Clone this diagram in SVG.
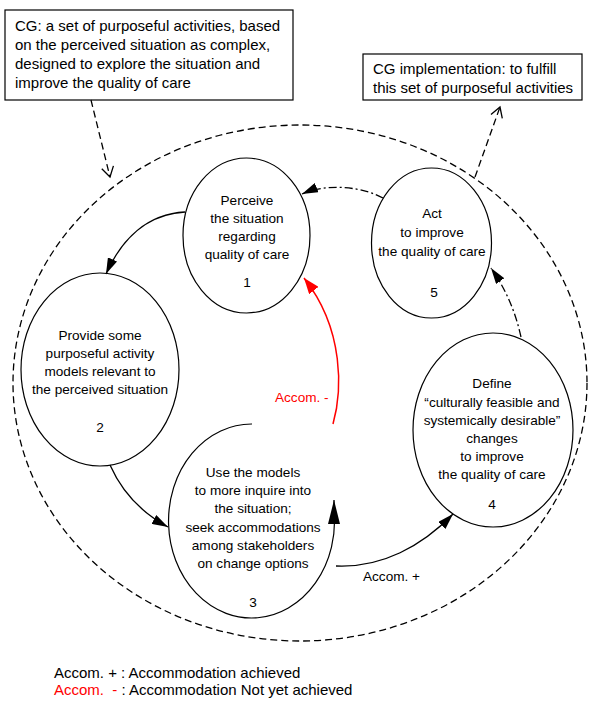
<svg xmlns="http://www.w3.org/2000/svg" width="600" height="706" viewBox="0 0 600 706">
<style>
text{font-family:"Liberation Sans",Arial,sans-serif;fill:#000}
.n{font-size:13.6px;text-anchor:middle}
.b{font-size:15px}
.shape{fill:none;stroke:#000;stroke-width:1.2}
.box{fill:#fff;stroke:#000;stroke-width:1.2}
.c{fill:none;stroke:#000;stroke-width:1.3}
.dash{fill:none;stroke:#000;stroke-width:1.3;stroke-dasharray:7 4}
.dd{fill:none;stroke:#000;stroke-width:1.3;stroke-dasharray:8 3 2 3}
.red{fill:none;stroke:#f00;stroke-width:1.5}
</style>
<defs>
<marker id="ah" markerUnits="userSpaceOnUse" markerWidth="16" markerHeight="10" refX="16" refY="5" orient="auto"><path d="M0,0 L16,5 L0,10 z" fill="#000"/></marker>
<marker id="ahL" markerUnits="userSpaceOnUse" markerWidth="24" markerHeight="12" refX="24" refY="6" orient="auto"><path d="M0,0 L24,6 L0,12 z" fill="#000"/></marker>
<marker id="ahR" markerUnits="userSpaceOnUse" markerWidth="16" markerHeight="12" refX="16" refY="6" orient="auto"><path d="M0,0 L16,6 L0,12 z" fill="#f00"/></marker>
<marker id="open" markerUnits="userSpaceOnUse" markerWidth="13" markerHeight="14" refX="11" refY="7" orient="auto"><path d="M1,1 L11,7 L1,13" fill="none" stroke="#000" stroke-width="1.3"/></marker>
</defs>

<g id="boundary"><ellipse class="dash" cx="300" cy="383" rx="287" ry="258"/></g>

<g id="box-cg">
<rect class="box" x="5" y="10" width="288" height="90"/>
<text class="b" x="15" y="31">CG: a set of purposeful activities, based</text>
<text class="b" x="15" y="50">on the perceived situation as complex,</text>
<text class="b" x="15" y="69">designed to explore the situation and</text>
<text class="b" x="15" y="88">improve the quality of care</text>
</g>

<g id="box-impl">
<rect class="box" x="363" y="54" width="219" height="46"/>
<text class="b" x="373" y="73.5">CG implementation: to fulfill</text>
<text class="b" x="373" y="93">this set of purposeful activities</text>
</g>

<g id="node1">
<ellipse class="shape" cx="246.5" cy="235.5" rx="63.5" ry="77.5"/>
<text class="n" x="247" y="205">Perceive</text>
<text class="n" x="247" y="223">the situation</text>
<text class="n" x="247" y="241">regarding</text>
<text class="n" x="247" y="259">quality of care</text>
<text class="n" x="247" y="287">1</text>
</g>

<g id="node2">
<ellipse class="shape" cx="100" cy="369.5" rx="79" ry="96.5"/>
<text class="n" x="100" y="340">Provide some</text>
<text class="n" x="100" y="358">purposeful activity</text>
<text class="n" x="100" y="376">models relevant to</text>
<text class="n" x="100" y="394">the perceived situation</text>
<text class="n" x="100" y="432">2</text>
</g>

<g id="node3">
<path class="shape" d="M252,424 A83,97 0 1 0 334,510"/>
<text class="n" x="253" y="477">Use the models</text>
<text class="n" x="253" y="495">to more inquire into</text>
<text class="n" x="253" y="513">the situation;</text>
<text class="n" x="253" y="532">seek accommodations</text>
<text class="n" x="253" y="550">among stakeholders</text>
<text class="n" x="253" y="568">on change options</text>
<text class="n" x="253" y="607">3</text>
</g>

<g id="node4">
<ellipse class="shape" cx="493" cy="430" rx="80" ry="97"/>
<text class="n" x="492" y="388">Define</text>
<text class="n" x="492" y="407">“culturally feasible and</text>
<text class="n" x="492" y="425">systemically desirable”</text>
<text class="n" x="492" y="443">changes</text>
<text class="n" x="492" y="461">to improve</text>
<text class="n" x="492" y="479">the quality of care</text>
<text class="n" x="492" y="509">4</text>
</g>

<g id="node5">
<ellipse class="shape" cx="431.5" cy="243" rx="60" ry="75"/>
<text class="n" x="432" y="218">Act</text>
<text class="n" x="432" y="237">to improve</text>
<text class="n" x="432" y="256">the quality of care</text>
<text class="n" x="434" y="297">5</text>
</g>

<g id="connectors">
<path class="dash" d="M91,100 L110,177" marker-end="url(#open)"/>
<path class="dash" d="M475,177 L500,107" marker-end="url(#open)"/>
<path class="c" d="M185,212 C148,214 122,238 106,274" marker-end="url(#ah)"/>
<path class="c" d="M110,465 C122,492 142,513 168,527" marker-end="url(#ah)"/>
<path class="c" d="M334,512 L334,500" marker-end="url(#ahL)"/>
<path class="red" d="M333,424 C342,392 345,330 304,278" marker-end="url(#ahR)"/>
<path class="c" d="M336,566 C382,568 422,546 453,514" marker-end="url(#ah)"/>
<path class="dd" d="M521,337 C515,310 505,288 491,268" marker-end="url(#ah)"/>
<path class="dd" d="M383,198 C365,188 330,182 302,194" marker-end="url(#ah)"/>
<text class="n" x="275" y="402" style="fill:#f00;text-anchor:start" xml:space="preserve">Accom. -</text>
<text class="n" x="363" y="581" style="text-anchor:start">Accom. +</text>
</g>

<g id="legend">
<text class="b" x="54" y="678">Accom. + : Accommodation achieved</text>
<text class="b" x="54" y="695" xml:space="preserve"><tspan style="fill:#f00">Accom.  -</tspan> : Accommodation Not yet achieved</text>
</g>
</svg>
